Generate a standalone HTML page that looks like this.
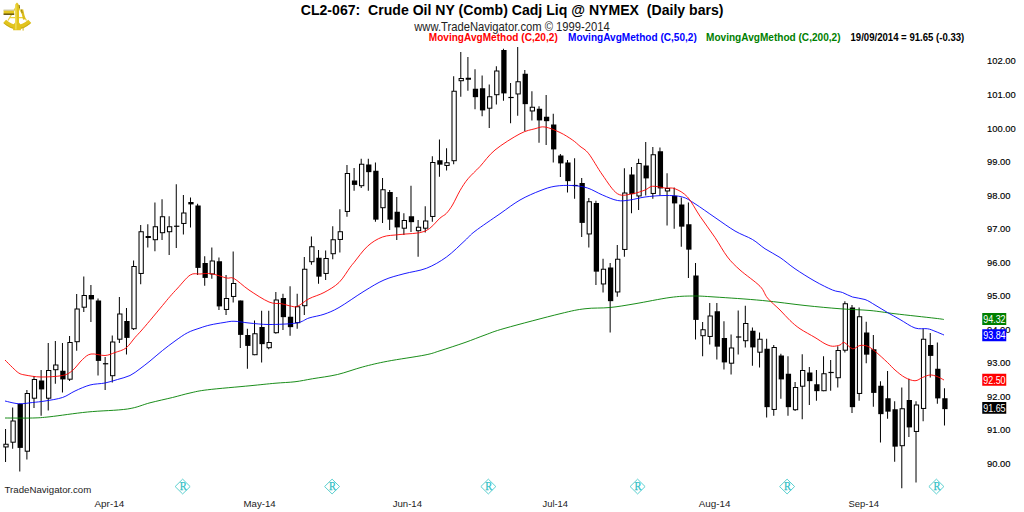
<!DOCTYPE html>
<html><head><meta charset="utf-8"><title>CL2-067 Crude Oil</title>
<style>
html,body{margin:0;padding:0;background:#fff;}
body{width:1024px;height:512px;overflow:hidden;font-family:"Liberation Sans",sans-serif;}
svg{display:block;}
svg text{font-family:"Liberation Sans",sans-serif;}
</style></head><body>
<svg width="1024" height="512" viewBox="0 0 1024 512">
<rect width="1024" height="512" fill="#fff"/>
<g id="candles">
<rect x="5.05" y="429" width="1" height="33" fill="#000"/><rect x="3.35" y="443.75" width="5.3" height="3.7" fill="#000"/><rect x="4.4" y="444.75" width="3.2" height="1.7" fill="#fff"/>
<rect x="12.16" y="407.5" width="1" height="41.25" fill="#000"/><rect x="10.46" y="420.5" width="5.3" height="22.2" fill="#000"/><rect x="11.51" y="421.5" width="3.2" height="20.2" fill="#fff"/>
<rect x="19.28" y="403.75" width="1" height="67.75" fill="#000"/><rect x="17.58" y="403.75" width="5.3" height="44.15" fill="#000"/>
<rect x="26.39" y="390" width="1" height="69.5" fill="#000"/><rect x="24.69" y="393" width="5.3" height="58.7" fill="#000"/><rect x="25.74" y="394" width="3.2" height="56.7" fill="#fff"/>
<rect x="33.5" y="376" width="1" height="32" fill="#000"/><rect x="31.8" y="379" width="5.3" height="19.7" fill="#000"/><rect x="32.85" y="380" width="3.2" height="17.7" fill="#fff"/>
<rect x="40.62" y="370" width="1" height="45.75" fill="#000"/><rect x="38.92" y="380.5" width="5.3" height="8.9" fill="#000"/>
<rect x="47.73" y="343" width="1" height="67.5" fill="#000"/><rect x="46.03" y="370" width="5.3" height="28.7" fill="#000"/><rect x="47.08" y="371" width="3.2" height="26.7" fill="#fff"/>
<rect x="54.84" y="341" width="1" height="42.75" fill="#000"/><rect x="53.14" y="364.5" width="5.3" height="5.7" fill="#000"/><rect x="54.19" y="365.5" width="3.2" height="3.7" fill="#fff"/>
<rect x="61.95" y="343" width="1" height="49.5" fill="#000"/><rect x="60.25" y="370.75" width="5.3" height="8.65" fill="#000"/>
<rect x="69.07" y="336" width="1" height="45" fill="#000"/><rect x="67.37" y="342" width="5.3" height="37.7" fill="#000"/><rect x="68.42" y="343" width="3.2" height="35.7" fill="#fff"/>
<rect x="76.18" y="294" width="1" height="56.75" fill="#000"/><rect x="74.48" y="308.5" width="5.3" height="33.7" fill="#000"/><rect x="75.53" y="309.5" width="3.2" height="31.7" fill="#fff"/>
<rect x="83.29" y="276.5" width="1" height="35.5" fill="#000"/><rect x="81.59" y="295" width="5.3" height="12.7" fill="#000"/><rect x="82.64" y="296" width="3.2" height="10.7" fill="#fff"/>
<rect x="90.41" y="285" width="1" height="37" fill="#000"/><rect x="88.71" y="295" width="5.3" height="4.4" fill="#000"/>
<rect x="97.52" y="298.5" width="1" height="77" fill="#000"/><rect x="95.82" y="300.5" width="5.3" height="60.4" fill="#000"/>
<rect x="104.63" y="357" width="1" height="33" fill="#000"/><rect x="102.93" y="363.15" width="5.3" height="1.2" fill="#000"/>
<rect x="111.75" y="335.5" width="1" height="47" fill="#000"/><rect x="110.05" y="341.5" width="5.3" height="34.7" fill="#000"/><rect x="111.09" y="342.5" width="3.2" height="32.7" fill="#fff"/>
<rect x="118.86" y="297" width="1" height="46" fill="#000"/><rect x="117.16" y="313.5" width="5.3" height="26.2" fill="#000"/><rect x="118.21" y="314.5" width="3.2" height="24.2" fill="#fff"/>
<rect x="125.97" y="308" width="1" height="46.5" fill="#000"/><rect x="124.27" y="321" width="5.3" height="16.9" fill="#000"/>
<rect x="133.08" y="260.5" width="1" height="69.5" fill="#000"/><rect x="131.38" y="266" width="5.3" height="63.2" fill="#000"/><rect x="132.43" y="267" width="3.2" height="61.2" fill="#fff"/>
<rect x="140.2" y="225" width="1" height="59.25" fill="#000"/><rect x="138.5" y="231.25" width="5.3" height="42.7" fill="#000"/><rect x="139.55" y="232.25" width="3.2" height="40.7" fill="#fff"/>
<rect x="147.31" y="224.25" width="1" height="23.25" fill="#000"/><rect x="145.61" y="236" width="5.3" height="2" fill="#000"/>
<rect x="154.42" y="202.5" width="1" height="48.75" fill="#000"/><rect x="152.72" y="226.25" width="5.3" height="13.95" fill="#000"/><rect x="153.77" y="227.25" width="3.2" height="11.95" fill="#fff"/>
<rect x="161.54" y="199.25" width="1" height="40.75" fill="#000"/><rect x="159.84" y="216.25" width="5.3" height="16.95" fill="#000"/><rect x="160.89" y="217.25" width="3.2" height="14.95" fill="#fff"/>
<rect x="168.65" y="216.25" width="1" height="38.75" fill="#000"/><rect x="166.95" y="226.25" width="5.3" height="5.95" fill="#000"/><rect x="168" y="227.25" width="3.2" height="3.95" fill="#fff"/>
<rect x="175.76" y="184.25" width="1" height="63.75" fill="#000"/><rect x="174.06" y="225.65" width="5.3" height="1.2" fill="#000"/>
<rect x="182.88" y="195" width="1" height="39.5" fill="#000"/><rect x="181.18" y="212.5" width="5.3" height="11.45" fill="#000"/><rect x="182.23" y="213.5" width="3.2" height="9.45" fill="#fff"/>
<rect x="189.99" y="197.5" width="1" height="30" fill="#000"/><rect x="188.29" y="202" width="5.3" height="2.4" fill="#000"/>
<rect x="197.1" y="203.75" width="1" height="71.25" fill="#000"/><rect x="195.4" y="205.5" width="5.3" height="62.4" fill="#000"/>
<rect x="204.21" y="256.25" width="1" height="29.5" fill="#000"/><rect x="202.51" y="263" width="5.3" height="14.9" fill="#000"/>
<rect x="211.33" y="247.5" width="1" height="31.25" fill="#000"/><rect x="209.63" y="260.5" width="5.3" height="13.95" fill="#000"/><rect x="210.68" y="261.5" width="3.2" height="11.95" fill="#fff"/>
<rect x="218.44" y="257.5" width="1" height="52.5" fill="#000"/><rect x="216.74" y="261.25" width="5.3" height="45.15" fill="#000"/>
<rect x="225.55" y="275" width="1" height="40" fill="#000"/><rect x="223.85" y="298" width="5.3" height="11.95" fill="#000"/><rect x="224.9" y="299" width="3.2" height="9.95" fill="#fff"/>
<rect x="232.67" y="251.5" width="1" height="51" fill="#000"/><rect x="230.97" y="283" width="5.3" height="13.95" fill="#000"/><rect x="232.02" y="284" width="3.2" height="11.95" fill="#fff"/>
<rect x="239.78" y="300.5" width="1" height="47.5" fill="#000"/><rect x="238.08" y="300.5" width="5.3" height="34.4" fill="#000"/>
<rect x="246.89" y="328.75" width="1" height="40" fill="#000"/><rect x="245.19" y="335" width="5.3" height="10.9" fill="#000"/>
<rect x="254.01" y="320.5" width="1" height="34.7" fill="#000"/><rect x="252.31" y="333.25" width="5.3" height="21.95" fill="#000"/><rect x="253.36" y="334.25" width="3.2" height="19.95" fill="#fff"/>
<rect x="261.12" y="310.75" width="1" height="51.75" fill="#000"/><rect x="259.42" y="327" width="5.3" height="17.15" fill="#000"/>
<rect x="268.23" y="310.75" width="1" height="38.5" fill="#000"/><rect x="266.53" y="342" width="5.3" height="6.2" fill="#000"/><rect x="267.58" y="343" width="3.2" height="4.2" fill="#fff"/>
<rect x="275.34" y="292" width="1" height="41.75" fill="#000"/><rect x="273.64" y="299.5" width="5.3" height="33.7" fill="#000"/><rect x="274.69" y="300.5" width="3.2" height="31.7" fill="#fff"/>
<rect x="282.46" y="293.75" width="1" height="36.25" fill="#000"/><rect x="280.76" y="298" width="5.3" height="19.15" fill="#000"/>
<rect x="289.57" y="286.25" width="1" height="49.5" fill="#000"/><rect x="287.87" y="316.75" width="5.3" height="10.4" fill="#000"/>
<rect x="296.68" y="293.75" width="1" height="35" fill="#000"/><rect x="294.98" y="306.25" width="5.3" height="16.95" fill="#000"/><rect x="296.03" y="307.25" width="3.2" height="14.95" fill="#fff"/>
<rect x="303.8" y="257" width="1" height="58" fill="#000"/><rect x="302.1" y="268.75" width="5.3" height="37.45" fill="#000"/><rect x="303.15" y="269.75" width="3.2" height="35.45" fill="#fff"/>
<rect x="310.91" y="236.5" width="1" height="28.25" fill="#000"/><rect x="309.21" y="246.25" width="5.3" height="15.95" fill="#000"/><rect x="310.26" y="247.25" width="3.2" height="13.95" fill="#fff"/>
<rect x="318.02" y="250" width="1" height="33.75" fill="#000"/><rect x="316.32" y="257.75" width="5.3" height="18.9" fill="#000"/>
<rect x="325.14" y="250.5" width="1" height="29.5" fill="#000"/><rect x="323.44" y="258" width="5.3" height="15.95" fill="#000"/><rect x="324.49" y="259" width="3.2" height="13.95" fill="#fff"/>
<rect x="332.25" y="226.25" width="1" height="33" fill="#000"/><rect x="330.55" y="239.25" width="5.3" height="14.95" fill="#000"/><rect x="331.6" y="240.25" width="3.2" height="12.95" fill="#fff"/>
<rect x="339.36" y="209.25" width="1" height="43.25" fill="#000"/><rect x="337.66" y="231.25" width="5.3" height="8.7" fill="#000"/><rect x="338.71" y="232.25" width="3.2" height="6.7" fill="#fff"/>
<rect x="346.47" y="165" width="1" height="51.75" fill="#000"/><rect x="344.77" y="173" width="5.3" height="38.95" fill="#000"/><rect x="345.82" y="174" width="3.2" height="36.95" fill="#fff"/>
<rect x="353.59" y="168" width="1" height="22.75" fill="#000"/><rect x="351.89" y="180.5" width="5.3" height="4.4" fill="#000"/>
<rect x="360.7" y="158.75" width="1" height="29.25" fill="#000"/><rect x="359" y="163.75" width="5.3" height="22.45" fill="#000"/><rect x="360.05" y="164.75" width="3.2" height="20.45" fill="#fff"/>
<rect x="367.81" y="158.75" width="1" height="32" fill="#000"/><rect x="366.11" y="164.5" width="5.3" height="7.65" fill="#000"/>
<rect x="374.93" y="162.5" width="1" height="59.25" fill="#000"/><rect x="373.23" y="170.75" width="5.3" height="48.9" fill="#000"/>
<rect x="382.04" y="178" width="1" height="45" fill="#000"/><rect x="380.34" y="189.25" width="5.3" height="18.95" fill="#000"/><rect x="381.39" y="190.25" width="3.2" height="16.95" fill="#fff"/>
<rect x="389.15" y="190" width="1" height="40" fill="#000"/><rect x="387.45" y="192" width="5.3" height="27.65" fill="#000"/>
<rect x="396.27" y="197" width="1" height="43" fill="#000"/><rect x="394.57" y="211.75" width="5.3" height="15.65" fill="#000"/>
<rect x="403.38" y="213.25" width="1" height="21.75" fill="#000"/><rect x="401.68" y="220" width="5.3" height="8.7" fill="#000"/><rect x="402.73" y="221" width="3.2" height="6.7" fill="#fff"/>
<rect x="410.49" y="185.75" width="1" height="46.25" fill="#000"/><rect x="408.79" y="216.25" width="5.3" height="5.9" fill="#000"/>
<rect x="417.6" y="220" width="1" height="36.75" fill="#000"/><rect x="415.9" y="226.75" width="5.3" height="4.45" fill="#000"/><rect x="416.95" y="227.75" width="3.2" height="2.45" fill="#fff"/>
<rect x="424.72" y="206.25" width="1" height="26.25" fill="#000"/><rect x="423.02" y="220.5" width="5.3" height="8.2" fill="#000"/><rect x="424.07" y="221.5" width="3.2" height="6.2" fill="#fff"/>
<rect x="431.83" y="156.25" width="1" height="65.5" fill="#000"/><rect x="430.13" y="162" width="5.3" height="54.95" fill="#000"/><rect x="431.18" y="163" width="3.2" height="52.95" fill="#fff"/>
<rect x="438.94" y="139.5" width="1" height="37.25" fill="#000"/><rect x="437.24" y="160.25" width="5.3" height="4.4" fill="#000"/>
<rect x="446.06" y="148.25" width="1" height="22.25" fill="#000"/><rect x="444.36" y="162.25" width="5.3" height="3.7" fill="#000"/><rect x="445.41" y="163.25" width="3.2" height="1.7" fill="#fff"/>
<rect x="453.17" y="76.25" width="1" height="88" fill="#000"/><rect x="451.47" y="90.75" width="5.3" height="70.45" fill="#000"/><rect x="452.52" y="91.75" width="3.2" height="68.45" fill="#fff"/>
<rect x="460.28" y="52" width="1" height="44.75" fill="#000"/><rect x="458.58" y="78" width="5.3" height="3.2" fill="#000"/><rect x="459.63" y="79" width="3.2" height="1.2" fill="#fff"/>
<rect x="467.4" y="57" width="1" height="33.75" fill="#000"/><rect x="465.7" y="77.75" width="5.3" height="2" fill="#000"/>
<rect x="474.51" y="69.25" width="1" height="40" fill="#000"/><rect x="472.81" y="88.75" width="5.3" height="8.4" fill="#000"/>
<rect x="481.62" y="75.5" width="1" height="40.75" fill="#000"/><rect x="479.92" y="88.25" width="5.3" height="22.15" fill="#000"/>
<rect x="488.73" y="84.5" width="1" height="43.5" fill="#000"/><rect x="487.03" y="96.25" width="5.3" height="12.45" fill="#000"/><rect x="488.08" y="97.25" width="3.2" height="10.45" fill="#fff"/>
<rect x="495.85" y="66.25" width="1" height="38.25" fill="#000"/><rect x="494.15" y="70.5" width="5.3" height="24.7" fill="#000"/><rect x="495.2" y="71.5" width="3.2" height="22.7" fill="#fff"/>
<rect x="502.96" y="48.75" width="1" height="52" fill="#000"/><rect x="501.26" y="50" width="5.3" height="43.4" fill="#000"/>
<rect x="510.07" y="83" width="1" height="40.25" fill="#000"/><rect x="508.37" y="96.9" width="5.3" height="1.2" fill="#000"/>
<rect x="517.19" y="47" width="1" height="68.75" fill="#000"/><rect x="515.49" y="81.25" width="5.3" height="13.2" fill="#000"/><rect x="516.54" y="82.25" width="3.2" height="11.2" fill="#fff"/>
<rect x="524.3" y="70" width="1" height="61.25" fill="#000"/><rect x="522.6" y="73.75" width="5.3" height="30.4" fill="#000"/>
<rect x="531.41" y="91.25" width="1" height="29.25" fill="#000"/><rect x="529.71" y="106.75" width="5.3" height="4.7" fill="#000"/><rect x="530.76" y="107.75" width="3.2" height="2.7" fill="#fff"/>
<rect x="538.52" y="106.25" width="1" height="36.5" fill="#000"/><rect x="536.83" y="108.75" width="5.3" height="11.65" fill="#000"/>
<rect x="545.64" y="95" width="1" height="50" fill="#000"/><rect x="543.94" y="116.75" width="5.3" height="4.4" fill="#000"/>
<rect x="552.75" y="113.75" width="1" height="48.75" fill="#000"/><rect x="551.05" y="124.5" width="5.3" height="24.9" fill="#000"/>
<rect x="559.86" y="154" width="1" height="23" fill="#000"/><rect x="558.16" y="155.5" width="5.3" height="7.9" fill="#000"/>
<rect x="566.98" y="160" width="1" height="32.5" fill="#000"/><rect x="565.28" y="162.5" width="5.3" height="18.65" fill="#000"/>
<rect x="574.09" y="158.25" width="1" height="40.5" fill="#000"/><rect x="572.39" y="184.9" width="5.3" height="1.2" fill="#000"/>
<rect x="581.2" y="178" width="1" height="59" fill="#000"/><rect x="579.5" y="183" width="5.3" height="39.9" fill="#000"/>
<rect x="588.32" y="198" width="1" height="49.5" fill="#000"/><rect x="586.62" y="201.25" width="5.3" height="33.2" fill="#000"/><rect x="587.67" y="202.25" width="3.2" height="31.2" fill="#fff"/>
<rect x="595.43" y="200.75" width="1" height="84.25" fill="#000"/><rect x="593.73" y="203" width="5.3" height="68.65" fill="#000"/>
<rect x="602.54" y="258.75" width="1" height="33.75" fill="#000"/><rect x="600.84" y="268.75" width="5.3" height="15.7" fill="#000"/><rect x="601.89" y="269.75" width="3.2" height="13.7" fill="#fff"/>
<rect x="609.65" y="263" width="1" height="69.5" fill="#000"/><rect x="607.96" y="267.5" width="5.3" height="33.65" fill="#000"/>
<rect x="616.77" y="245" width="1" height="51.75" fill="#000"/><rect x="615.07" y="258.75" width="5.3" height="33.7" fill="#000"/><rect x="616.12" y="259.75" width="3.2" height="31.7" fill="#fff"/>
<rect x="623.88" y="168.25" width="1" height="88.5" fill="#000"/><rect x="622.18" y="192.5" width="5.3" height="57.45" fill="#000"/><rect x="623.23" y="193.5" width="3.2" height="55.45" fill="#fff"/>
<rect x="630.99" y="167" width="1" height="46.25" fill="#000"/><rect x="629.29" y="174.5" width="5.3" height="19.65" fill="#000"/>
<rect x="638.11" y="158.75" width="1" height="51.25" fill="#000"/><rect x="636.41" y="163" width="5.3" height="33.45" fill="#000"/><rect x="637.46" y="164" width="3.2" height="31.45" fill="#fff"/>
<rect x="645.22" y="142" width="1" height="53.5" fill="#000"/><rect x="643.52" y="165.5" width="5.3" height="12.9" fill="#000"/>
<rect x="652.33" y="147" width="1" height="51.75" fill="#000"/><rect x="650.63" y="154.25" width="5.3" height="39.7" fill="#000"/><rect x="651.68" y="155.25" width="3.2" height="37.7" fill="#fff"/>
<rect x="659.45" y="147.5" width="1" height="48" fill="#000"/><rect x="657.75" y="151.25" width="5.3" height="37.15" fill="#000"/>
<rect x="666.56" y="173.25" width="1" height="52.25" fill="#000"/><rect x="664.86" y="188" width="5.3" height="3.45" fill="#000"/><rect x="665.91" y="189" width="3.2" height="1.45" fill="#fff"/>
<rect x="673.67" y="187.5" width="1" height="41.25" fill="#000"/><rect x="671.97" y="195.75" width="5.3" height="7.65" fill="#000"/>
<rect x="680.78" y="197.5" width="1" height="49.25" fill="#000"/><rect x="679.09" y="204.5" width="5.3" height="22.15" fill="#000"/>
<rect x="687.9" y="202.5" width="1" height="75.5" fill="#000"/><rect x="686.2" y="224.25" width="5.3" height="25.4" fill="#000"/>
<rect x="695.01" y="263" width="1" height="76.5" fill="#000"/><rect x="693.31" y="275.5" width="5.3" height="44.4" fill="#000"/>
<rect x="702.12" y="322" width="1" height="34.25" fill="#000"/><rect x="700.42" y="329.25" width="5.3" height="6.95" fill="#000"/><rect x="701.47" y="330.25" width="3.2" height="4.95" fill="#fff"/>
<rect x="709.24" y="303" width="1" height="41.5" fill="#000"/><rect x="707.54" y="315.5" width="5.3" height="21.45" fill="#000"/><rect x="708.59" y="316.5" width="3.2" height="19.45" fill="#fff"/>
<rect x="716.35" y="303" width="1" height="56.5" fill="#000"/><rect x="714.65" y="311.25" width="5.3" height="35.4" fill="#000"/>
<rect x="723.46" y="321.25" width="1" height="48.25" fill="#000"/><rect x="721.76" y="338" width="5.3" height="24.4" fill="#000"/>
<rect x="730.58" y="334.5" width="1" height="40" fill="#000"/><rect x="728.88" y="347.5" width="5.3" height="16.2" fill="#000"/><rect x="729.93" y="348.5" width="3.2" height="14.2" fill="#fff"/>
<rect x="737.69" y="310.5" width="1" height="44" fill="#000"/><rect x="735.99" y="336.4" width="5.3" height="1.2" fill="#000"/>
<rect x="744.8" y="305.75" width="1" height="41.75" fill="#000"/><rect x="743.1" y="323" width="5.3" height="18.2" fill="#000"/><rect x="744.15" y="324" width="3.2" height="16.2" fill="#fff"/>
<rect x="751.91" y="327.5" width="1" height="38.25" fill="#000"/><rect x="750.22" y="330.75" width="5.3" height="16.65" fill="#000"/>
<rect x="759.03" y="332.5" width="1" height="35" fill="#000"/><rect x="757.33" y="338.75" width="5.3" height="13.95" fill="#000"/><rect x="758.38" y="339.75" width="3.2" height="11.95" fill="#fff"/>
<rect x="766.14" y="338.75" width="1" height="78.75" fill="#000"/><rect x="764.44" y="348.75" width="5.3" height="58.4" fill="#000"/>
<rect x="773.25" y="345" width="1" height="70.75" fill="#000"/><rect x="771.55" y="347" width="5.3" height="62.95" fill="#000"/><rect x="772.6" y="348" width="3.2" height="60.95" fill="#fff"/>
<rect x="780.37" y="353.75" width="1" height="45" fill="#000"/><rect x="778.67" y="355.5" width="5.3" height="23.9" fill="#000"/>
<rect x="787.48" y="356.25" width="1" height="59.5" fill="#000"/><rect x="785.78" y="373.75" width="5.3" height="33.4" fill="#000"/>
<rect x="794.59" y="382" width="1" height="29" fill="#000"/><rect x="792.89" y="387" width="5.3" height="23.2" fill="#000"/><rect x="793.94" y="388" width="3.2" height="21.2" fill="#fff"/>
<rect x="801.71" y="354.25" width="1" height="65" fill="#000"/><rect x="800.01" y="370" width="5.3" height="16.7" fill="#000"/><rect x="801.06" y="371" width="3.2" height="14.7" fill="#fff"/>
<rect x="808.82" y="367" width="1" height="38" fill="#000"/><rect x="807.12" y="372.5" width="5.3" height="8.65" fill="#000"/>
<rect x="815.93" y="370" width="1" height="30.75" fill="#000"/><rect x="814.23" y="384.25" width="5.3" height="6.9" fill="#000"/>
<rect x="823.04" y="356.25" width="1" height="34.95" fill="#000"/><rect x="821.35" y="373.25" width="5.3" height="17.95" fill="#000"/><rect x="822.39" y="374.25" width="3.2" height="15.95" fill="#fff"/>
<rect x="830.16" y="360" width="1" height="30.75" fill="#000"/><rect x="828.46" y="371.9" width="5.3" height="1.2" fill="#000"/>
<rect x="837.27" y="346.25" width="1" height="41.25" fill="#000"/><rect x="835.57" y="350" width="5.3" height="28.2" fill="#000"/><rect x="836.62" y="351" width="3.2" height="26.2" fill="#fff"/>
<rect x="844.38" y="301.25" width="1" height="51.25" fill="#000"/><rect x="842.68" y="303.25" width="5.3" height="47.45" fill="#000"/><rect x="843.73" y="304.25" width="3.2" height="45.45" fill="#fff"/>
<rect x="851.5" y="305" width="1" height="108" fill="#000"/><rect x="849.8" y="307.5" width="5.3" height="99.65" fill="#000"/>
<rect x="858.61" y="307.5" width="1" height="93.25" fill="#000"/><rect x="856.91" y="316.25" width="5.3" height="77.7" fill="#000"/><rect x="857.96" y="317.25" width="3.2" height="75.7" fill="#fff"/>
<rect x="865.72" y="321.75" width="1" height="41.5" fill="#000"/><rect x="864.02" y="332.5" width="5.3" height="22.15" fill="#000"/>
<rect x="872.84" y="335" width="1" height="71.75" fill="#000"/><rect x="871.14" y="349.25" width="5.3" height="43.65" fill="#000"/>
<rect x="879.95" y="381.25" width="1" height="61.25" fill="#000"/><rect x="878.25" y="385.75" width="5.3" height="28.4" fill="#000"/>
<rect x="887.06" y="371" width="1" height="47.75" fill="#000"/><rect x="885.36" y="398.25" width="5.3" height="13.4" fill="#000"/>
<rect x="894.17" y="401.25" width="1" height="60.5" fill="#000"/><rect x="892.48" y="409.25" width="5.3" height="37.4" fill="#000"/>
<rect x="901.29" y="387.5" width="1" height="100.75" fill="#000"/><rect x="899.59" y="408.25" width="5.3" height="37.95" fill="#000"/><rect x="900.64" y="409.25" width="3.2" height="35.95" fill="#fff"/>
<rect x="908.4" y="378.75" width="1" height="58.25" fill="#000"/><rect x="906.7" y="400" width="5.3" height="27.4" fill="#000"/>
<rect x="915.51" y="401.25" width="1" height="81.25" fill="#000"/><rect x="913.81" y="404.5" width="5.3" height="27.45" fill="#000"/><rect x="914.86" y="405.5" width="3.2" height="25.45" fill="#fff"/>
<rect x="922.63" y="328.75" width="1" height="92.5" fill="#000"/><rect x="920.93" y="338.75" width="5.3" height="70.2" fill="#000"/><rect x="921.98" y="339.75" width="3.2" height="68.2" fill="#fff"/>
<rect x="929.74" y="333" width="1" height="44.5" fill="#000"/><rect x="928.04" y="345" width="5.3" height="10.9" fill="#000"/>
<rect x="936.85" y="342.5" width="1" height="61.25" fill="#000"/><rect x="935.15" y="368.75" width="5.3" height="29.65" fill="#000"/>
<rect x="943.97" y="388.25" width="1" height="37.25" fill="#000"/><rect x="942.27" y="398.25" width="5.3" height="10.9" fill="#000"/>
</g>
<path fill="none" stroke="#008000" stroke-width="0.9" d="M5,418 C9.58,418 25,418.21 32.5,418 C40,417.79 40.83,417.75 50,416.75 C59.17,415.75 74.58,413.29 87.5,412 C100.42,410.71 117.08,410.53 127.5,409 C137.92,407.47 142.5,404.72 150,402.8 C157.5,400.88 165.83,399.13 172.5,397.5 C179.17,395.87 184.17,394.28 190,393 C195.83,391.72 197.5,391.01 207.5,389.8 C217.5,388.59 238.75,386.84 250,385.75 C261.25,384.66 267.5,383.92 275,383.25 C282.5,382.58 288.75,382.5 295,381.75 C301.25,381 305.42,379.96 312.5,378.75 C319.58,377.54 329.17,376.46 337.5,374.5 C345.83,372.54 354.17,369.21 362.5,367 C370.83,364.79 377.08,363.25 387.5,361.25 C397.92,359.25 416.25,356.75 425,355 C433.75,353.25 433.33,352.83 440,350.75 C446.67,348.67 457.5,345.12 465,342.5 C472.5,339.88 478.33,337.38 485,335 C491.67,332.62 492.5,331.79 505,328.25 C517.5,324.71 546.67,317 560,313.75 C573.33,310.5 576.67,309.79 585,308.75 C593.33,307.71 601.67,308.33 610,307.5 C618.33,306.67 625,305.42 635,303.75 C645,302.08 660.42,298.79 670,297.5 C679.58,296.21 685,296.08 692.5,296 C700,295.92 703.33,296.25 715,297 C726.67,297.75 747.5,299.08 762.5,300.5 C777.5,301.92 792.08,304.12 805,305.5 C817.92,306.88 829.17,307.92 840,308.75 C850.83,309.58 860.83,309.67 870,310.5 C879.17,311.33 884.17,312.46 895,313.75 C905.83,315.04 926.83,317.29 935,318.25 C943.17,319.21 942.5,319.29 944,319.5"/>
<path fill="none" stroke="#0000ff" stroke-width="0.9" d="M5,401 C7.29,401.46 14.17,403.5 18.75,403.75 C23.33,404 28.12,402.96 32.5,402.5 C36.88,402.04 40,401.83 45,401 C50,400.17 57.5,399.17 62.5,397.5 C67.5,395.83 70.42,393.08 75,391 C79.58,388.92 85,386.33 90,385 C95,383.67 100.42,383.92 105,383 C109.58,382.08 113.33,380.75 117.5,379.5 C121.67,378.25 126.25,377.29 130,375.5 C133.75,373.71 136.67,371.17 140,368.75 C143.33,366.33 146.25,364.04 150,361 C153.75,357.96 158.33,353.83 162.5,350.5 C166.67,347.17 170.83,343.96 175,341 C179.17,338.04 183.33,334.92 187.5,332.75 C191.67,330.58 196.25,329.29 200,328 C203.75,326.71 206,325.92 210,325 C214,324.08 220,323.12 224,322.5 C228,321.88 229.83,321.17 234,321.25 C238.17,321.33 243.17,322.46 249,323 C254.83,323.54 261.08,324.5 269,324.5 C276.92,324.5 289.83,324.08 296.5,323 C303.17,321.92 304.42,319.46 309,318 C313.58,316.54 319,316 324,314.25 C329,312.5 332.33,311.33 339,307.5 C345.67,303.67 356.5,295.83 364,291.25 C371.5,286.67 377.33,282.92 384,280 C390.67,277.08 396.92,275.71 404,273.75 C411.08,271.79 419.42,271.04 426.5,268.25 C433.58,265.46 440.08,261.62 446.5,257 C452.92,252.38 460.25,244.79 465,240.5 C469.75,236.21 469.17,235.71 475,231.25 C480.83,226.79 492.5,218.96 500,213.75 C507.5,208.54 513.33,203.83 520,200 C526.67,196.17 534.17,193.04 540,190.75 C545.83,188.46 549.58,187.12 555,186.25 C560.42,185.38 567.08,185.21 572.5,185.5 C577.92,185.79 582.5,186.42 587.5,188 C592.5,189.58 597.5,192.92 602.5,195 C607.5,197.08 612.92,199.67 617.5,200.5 C622.08,201.33 625.42,200.58 630,200 C634.58,199.42 639.17,197.75 645,197 C650.83,196.25 658.75,195.5 665,195.5 C671.25,195.5 677.5,195.62 682.5,197 C687.5,198.38 689.58,200.33 695,203.75 C700.42,207.17 708.33,212.96 715,217.5 C721.67,222.04 728.75,227.33 735,231 C741.25,234.67 747.5,236.54 752.5,239.5 C757.5,242.46 760.42,245.75 765,248.75 C769.58,251.75 775,254.17 780,257.5 C785,260.83 789.17,264.79 795,268.75 C800.83,272.71 808.75,277.71 815,281.25 C821.25,284.79 827.92,288.12 832.5,290 C837.08,291.88 839.17,291.33 842.5,292.5 C845.83,293.67 848.75,295.83 852.5,297 C856.25,298.17 861.25,298.17 865,299.5 C868.75,300.83 871.25,302.83 875,305 C878.75,307.17 883.33,310.08 887.5,312.5 C891.67,314.92 895.42,316.92 900,319.5 C904.58,322.08 910.42,326.46 915,328 C919.58,329.54 924.17,328.21 927.5,328.75 C930.83,329.29 932.25,330.21 935,331.25 C937.75,332.29 942.5,334.38 944,335"/>
<path fill="none" stroke="#ff0000" stroke-width="0.9" d="M5,360 C6.25,361.25 10.21,365.33 12.5,367.5 C14.79,369.67 16.67,371.75 18.75,373 C20.83,374.25 21.29,374.33 25,375 C28.71,375.67 34.75,376.92 41,377 C47.25,377.08 57.25,376.58 62.5,375.5 C67.75,374.42 69.17,373.17 72.5,370.5 C75.83,367.83 79.42,362.25 82.5,359.5 C85.58,356.75 87.25,354.67 91,354 C94.75,353.33 101,355.75 105,355.5 C109,355.25 111.5,353.75 115,352.5 C118.5,351.25 122.67,350.5 126,348 C129.33,345.5 132.5,340.33 135,337.5 C137.5,334.67 138.5,333.83 141,331 C143.5,328.17 146.42,324.75 150,320.5 C153.58,316.25 159.17,309.5 162.5,305.5 C165.83,301.5 167.46,299.42 170,296.5 C172.54,293.58 174.38,291.58 177.75,288 C181.12,284.42 186.54,277.33 190.25,275 C193.96,272.67 196.46,274.21 200,274 C203.54,273.79 207.08,273.08 211.5,273.75 C215.92,274.42 222.75,277.21 226.5,278 C230.25,278.79 230.25,276.5 234,278.5 C237.75,280.5 243.17,286.08 249,290 C254.83,293.92 263.58,299.71 269,302 C274.42,304.29 277.75,303.04 281.5,303.75 C285.25,304.46 288.79,305.83 291.5,306.25 C294.21,306.67 294.83,307.5 297.75,306.25 C300.67,305 304.62,301.04 309,298.75 C313.38,296.46 319,295.21 324,292.5 C329,289.79 334.67,286.67 339,282.5 C343.33,278.33 347.5,270.83 350,267.5 C352.5,264.17 351.08,266.04 354,262.5 C356.92,258.96 362.75,250.5 367.5,246.25 C372.25,242 377.08,238.96 382.5,237 C387.92,235.04 392.92,235.46 400,234.5 C407.08,233.54 418.33,233.98 425,231.25 C431.67,228.52 436.46,221.06 440,218.1 C443.54,215.14 444.17,215.68 446.25,213.5 C448.33,211.32 450.21,208.82 452.5,205 C454.79,201.18 457.42,194.97 460,190.6 C462.58,186.22 464.67,182.77 468,178.75 C471.33,174.73 475.5,171.29 480,166.5 C484.5,161.71 488.33,155.46 495,150 C501.67,144.54 513.33,137.29 520,133.75 C526.67,130.21 530.83,129.88 535,128.75 C539.17,127.62 540.83,126.38 545,127 C549.17,127.62 555.42,130.33 560,132.5 C564.58,134.67 569.17,137.71 572.5,140 C575.83,142.29 577.29,143.96 580,146.25 C582.71,148.54 585,148.96 588.75,153.75 C592.5,158.54 597.71,168.33 602.5,175 C607.29,181.67 612.5,190.62 617.5,193.75 C622.5,196.88 627.92,194.38 632.5,193.75 C637.08,193.12 641.67,191.25 645,190 C648.33,188.75 649.17,186.58 652.5,186.25 C655.83,185.92 661.25,187.58 665,188 C668.75,188.42 671.25,187.25 675,188.75 C678.75,190.25 683.33,192.42 687.5,197 C691.67,201.58 695.42,209.5 700,216.25 C704.58,223 710.42,230.71 715,237.5 C719.58,244.29 723.33,251.58 727.5,257 C731.67,262.42 734.58,265.12 740,270 C745.42,274.88 755.42,281.58 760,286.25 C764.58,290.92 764.17,294.04 767.5,298 C770.83,301.96 776.25,306.25 780,310 C783.75,313.75 786.67,317.38 790,320.5 C793.33,323.62 795.83,325.92 800,328.75 C804.17,331.58 810.83,335 815,337.5 C819.17,340 822.08,342.29 825,343.75 C827.92,345.21 830,346.04 832.5,346.25 C835,346.46 838.04,345.62 840,345 C841.96,344.38 842.17,341.88 844.25,342.5 C846.33,343.12 849.88,348.25 852.5,348.75 C855.12,349.25 857.5,345.92 860,345.5 C862.5,345.08 865,345.29 867.5,346.25 C870,347.21 871.67,348.54 875,351.25 C878.33,353.96 884.17,359.38 887.5,362.5 C890.83,365.62 892.08,367.5 895,370 C897.92,372.5 901.67,375.71 905,377.5 C908.33,379.29 912.08,380.75 915,380.75 C917.92,380.75 920,378.46 922.5,377.5 C925,376.54 927.58,375.17 930,375 C932.42,374.83 934.67,375.67 937,376.5 C939.33,377.33 942.83,379.42 944,380"/>
<text x="987" y="467" font-size="9.4" fill="#000" stroke="#000" stroke-width="0.15">90.00</text>
<text x="987" y="433.45" font-size="9.4" fill="#000" stroke="#000" stroke-width="0.15">91.00</text>
<text x="987" y="399.9" font-size="9.4" fill="#000" stroke="#000" stroke-width="0.15">92.00</text>
<text x="987" y="366.35" font-size="9.4" fill="#000" stroke="#000" stroke-width="0.15">93.00</text>
<text x="987" y="332.8" font-size="9.4" fill="#000" stroke="#000" stroke-width="0.15">94.00</text>
<text x="987" y="299.25" font-size="9.4" fill="#000" stroke="#000" stroke-width="0.15">95.00</text>
<text x="987" y="265.7" font-size="9.4" fill="#000" stroke="#000" stroke-width="0.15">96.00</text>
<text x="987" y="232.15" font-size="9.4" fill="#000" stroke="#000" stroke-width="0.15">97.00</text>
<text x="987" y="198.6" font-size="9.4" fill="#000" stroke="#000" stroke-width="0.15">98.00</text>
<text x="987" y="165.05" font-size="9.4" fill="#000" stroke="#000" stroke-width="0.15">99.00</text>
<text x="987" y="131.5" font-size="9.4" fill="#000" stroke="#000" stroke-width="0.15">100.00</text>
<text x="987" y="97.95" font-size="9.4" fill="#000" stroke="#000" stroke-width="0.15">101.00</text>
<text x="987" y="64.4" font-size="9.4" fill="#000" stroke="#000" stroke-width="0.15">102.00</text>
<rect x="982.25" y="313" width="24" height="12" fill="#008000"/><text x="983.2" y="322.9" font-size="10.6" fill="#fff" textLength="22.4" lengthAdjust="spacingAndGlyphs">94.32</text>
<rect x="982.25" y="329.25" width="24" height="12" fill="#0000ff"/><text x="983.2" y="339.15" font-size="10.6" fill="#fff" textLength="22.4" lengthAdjust="spacingAndGlyphs">93.84</text>
<rect x="982.25" y="373.75" width="24" height="12" fill="#ff0000"/><text x="983.2" y="383.65" font-size="10.6" fill="#fff" textLength="22.4" lengthAdjust="spacingAndGlyphs">92.50</text>
<rect x="982.25" y="402" width="24" height="11.75" fill="#000"/><text x="983.2" y="411.77" font-size="10.6" fill="#fff" textLength="22.4" lengthAdjust="spacingAndGlyphs">91.65</text>
<text x="300.75" y="15" font-size="14.4" font-weight="bold" fill="#000" textLength="422.75" lengthAdjust="spacingAndGlyphs" xml:space="preserve">CL2-067:  Crude Oil NY (Comb) Cadj Liq @ NYMEX  (Daily bars)</text>
<text x="414.25" y="30.5" font-size="11.9" fill="#222" textLength="195.5" lengthAdjust="spacingAndGlyphs" xml:space="preserve">www.TradeNavigator.com © 1999-2014</text>
<text x="428.75" y="41" font-size="10" font-weight="bold" fill="#ff0000" textLength="129" lengthAdjust="spacingAndGlyphs" xml:space="preserve">MovingAvgMethod (C,20,2)</text>
<text x="568" y="41" font-size="10" font-weight="bold" fill="#0000ff" textLength="128.75" lengthAdjust="spacingAndGlyphs" xml:space="preserve">MovingAvgMethod (C,50,2)</text>
<text x="706" y="41" font-size="10" font-weight="bold" fill="#008000" textLength="134.5" lengthAdjust="spacingAndGlyphs" xml:space="preserve">MovingAvgMethod (C,200,2)</text>
<text x="850.5" y="41" font-size="10" font-weight="bold" fill="#000" textLength="113.75" lengthAdjust="spacingAndGlyphs" xml:space="preserve">19/09/2014 = 91.65 (-0.33)</text>
<text x="4.5" y="493.25" font-size="9.7" fill="#222" textLength="86.75" lengthAdjust="spacingAndGlyphs" xml:space="preserve">TradeNavigator.com</text>
<text x="94.5" y="506.5" font-size="9.7" fill="#222" textLength="29.75" lengthAdjust="spacingAndGlyphs" xml:space="preserve">Apr-14</text>
<text x="243.5" y="506.5" font-size="9.7" fill="#222" textLength="32.25" lengthAdjust="spacingAndGlyphs" xml:space="preserve">May-14</text>
<text x="392.75" y="506.5" font-size="9.7" fill="#222" textLength="29.25" lengthAdjust="spacingAndGlyphs" xml:space="preserve">Jun-14</text>
<text x="542.5" y="506.5" font-size="9.7" fill="#222" textLength="25.5" lengthAdjust="spacingAndGlyphs" xml:space="preserve">Jul-14</text>
<text x="698.75" y="506.5" font-size="9.7" fill="#222" textLength="31.75" lengthAdjust="spacingAndGlyphs" xml:space="preserve">Aug-14</text>
<text x="848.5" y="506.5" font-size="9.7" fill="#222" textLength="30.5" lengthAdjust="spacingAndGlyphs" xml:space="preserve">Sep-14</text>
<g transform="translate(182.65,486.55)"><path d="M0,-7.4 L7.5,0 L0,7.4 L-7.5,0 Z" fill="none" stroke="#48c9c9" stroke-width="0.9"/><text x="0.5" y="3.2" font-size="11.8" text-anchor="middle" fill="#2fbfc6" stroke="#2fbfc6" stroke-width="0.25" textLength="7" lengthAdjust="spacingAndGlyphs" style="font-family:'Liberation Serif',serif">R</text></g>
<g transform="translate(332.1,486.55)"><path d="M0,-7.4 L7.5,0 L0,7.4 L-7.5,0 Z" fill="none" stroke="#48c9c9" stroke-width="0.9"/><text x="0.5" y="3.2" font-size="11.8" text-anchor="middle" fill="#2fbfc6" stroke="#2fbfc6" stroke-width="0.25" textLength="7" lengthAdjust="spacingAndGlyphs" style="font-family:'Liberation Serif',serif">R</text></g>
<g transform="translate(488.35,486.55)"><path d="M0,-7.4 L7.5,0 L0,7.4 L-7.5,0 Z" fill="none" stroke="#48c9c9" stroke-width="0.9"/><text x="0.5" y="3.2" font-size="11.8" text-anchor="middle" fill="#2fbfc6" stroke="#2fbfc6" stroke-width="0.25" textLength="7" lengthAdjust="spacingAndGlyphs" style="font-family:'Liberation Serif',serif">R</text></g>
<g transform="translate(637.6,486.55)"><path d="M0,-7.4 L7.5,0 L0,7.4 L-7.5,0 Z" fill="none" stroke="#48c9c9" stroke-width="0.9"/><text x="0.5" y="3.2" font-size="11.8" text-anchor="middle" fill="#2fbfc6" stroke="#2fbfc6" stroke-width="0.25" textLength="7" lengthAdjust="spacingAndGlyphs" style="font-family:'Liberation Serif',serif">R</text></g>
<g transform="translate(787.1,486.55)"><path d="M0,-7.4 L7.5,0 L0,7.4 L-7.5,0 Z" fill="none" stroke="#48c9c9" stroke-width="0.9"/><text x="0.5" y="3.2" font-size="11.8" text-anchor="middle" fill="#2fbfc6" stroke="#2fbfc6" stroke-width="0.25" textLength="7" lengthAdjust="spacingAndGlyphs" style="font-family:'Liberation Serif',serif">R</text></g>
<g transform="translate(936.4,486.55)"><path d="M0,-7.4 L7.5,0 L0,7.4 L-7.5,0 Z" fill="none" stroke="#48c9c9" stroke-width="0.9"/><text x="0.5" y="3.2" font-size="11.8" text-anchor="middle" fill="#2fbfc6" stroke="#2fbfc6" stroke-width="0.25" textLength="7" lengthAdjust="spacingAndGlyphs" style="font-family:'Liberation Serif',serif">R</text></g>
<g id="logo">
<path d="M16.6,6 L8,20.5 M17.6,6 L26.5,20.5 M9.5,17.6 L25,17.6" stroke="#e9d23a" stroke-width="1.3" fill="none"/>
<path d="M4.6,21.3 Q17.2,32.6 29.8,21.3" stroke="#e2c41c" stroke-width="4.4" fill="none"/>
<path d="M4.2,23.4 Q17.2,34.4 30.4,23.2" stroke="#b79a14" stroke-width="0.9" fill="none" opacity="0.7"/>
<rect x="3.6" y="9.8" width="10.6" height="4.9" fill="#e4c71e"/>
<rect x="3.6" y="9.6" width="10.6" height="1.1" fill="#c9cbd8" opacity="0.8"/>
<rect x="3.6" y="13.5" width="10.6" height="1.4" fill="#5f5010"/>
<path d="M15.1,5.6 L15.6,4 L17,2.5 L18.4,4 L19,5.6 L19,22.5 L20.9,25 L20.9,30.2 L13.1,30.2 L13.1,25 L15.1,22.5 Z" fill="#e2c41c"/>
<path d="M15.9,4.5 L15.9,29.5" stroke="#f3e56a" stroke-width="1.1" fill="none"/>
<path d="M19.2,5 L19.6,8.5" stroke="#8f7a18" stroke-width="1" fill="none"/>
<path d="M22,9.5 L24.2,19.5" stroke="#dcbc1a" stroke-width="2.3" fill="none"/>
<path d="M21.2,9.3 L22.2,13" stroke="#8f7a18" stroke-width="0.8" fill="none"/>
<rect x="22.6" y="28" width="1" height="2.6" fill="#d4b41a"/>
</g>
</svg>
</body></html>
